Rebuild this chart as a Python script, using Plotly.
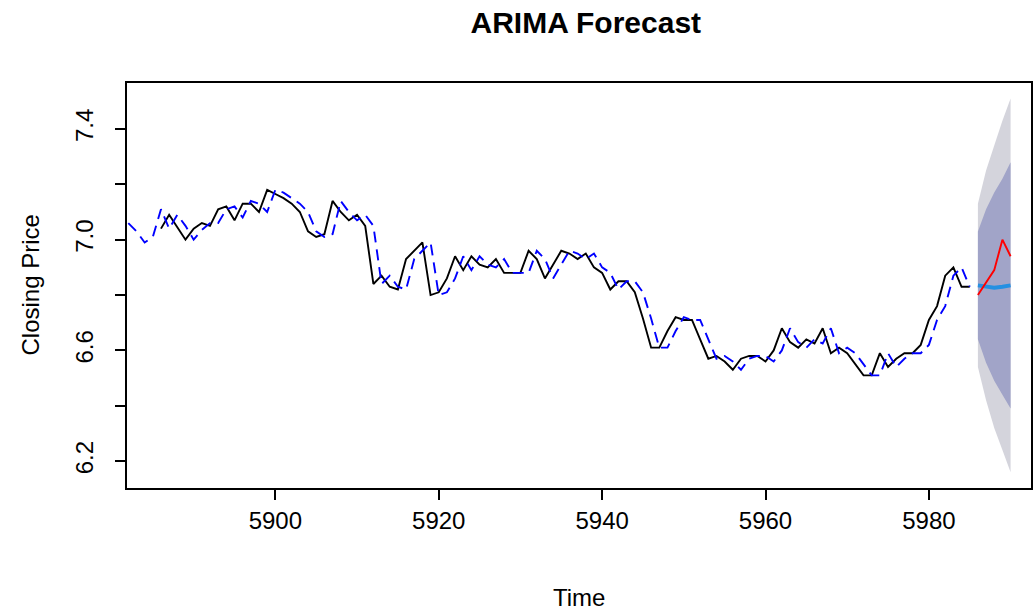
import plotly.graph_objects as go

# ---- data ----
t_start = 5886
actual = [7.04, 7.09, 7.045, 7.00, 7.04, 7.06, 7.05, 7.11, 7.12, 7.07,
          7.13, 7.13, 7.10, 7.18, 7.165, 7.15, 7.13, 7.10, 7.03, 7.01,
          7.02, 7.14, 7.10, 7.07, 7.09, 7.05, 6.84, 6.87, 6.83, 6.82,
          6.93, 6.96, 6.99, 6.80, 6.81, 6.86, 6.94, 6.89, 6.94, 6.91,
          6.90, 6.93, 6.88, 6.88, 6.88, 6.96, 6.93, 6.86, 6.91, 6.96,
          6.95, 6.93, 6.95, 6.90, 6.88, 6.82, 6.85, 6.85, 6.81, 6.715,
          6.61, 6.61, 6.67, 6.72, 6.71, 6.71, 6.64, 6.57, 6.58, 6.56,
          6.53, 6.57, 6.58, 6.58, 6.56, 6.60, 6.68, 6.63, 6.61, 6.64,
          6.625, 6.68, 6.59, 6.61, 6.59, 6.55, 6.51, 6.51, 6.59, 6.54,
          6.57, 6.59, 6.59, 6.62, 6.71, 6.76, 6.87, 6.90, 6.83, 6.83]
time_actual = list(range(t_start, t_start + len(actual)))

fit_start = 5882
fitted = [7.06, 7.03, 6.99, 7.01, 7.11, 7.04, 7.09, 7.05, 7.00, 7.035,
          7.06, 7.06, 7.11, 7.12, 7.08, 7.14, 7.13, 7.10, 7.18, 7.17,
          7.15, 7.13, 7.10, 7.03, 7.01, 7.02, 7.14, 7.10, 7.07, 7.09,
          7.05, 6.84, 6.87, 6.83, 6.82, 6.93, 6.96, 6.99, 6.80, 6.81,
          6.86, 6.94, 6.89, 6.94, 6.91, 6.90, 6.93, 6.88, 6.88, 6.88,
          6.96, 6.93, 6.86, 6.91, 6.96, 6.95, 6.93, 6.95, 6.90, 6.88,
          6.82, 6.85, 6.85, 6.81, 6.715, 6.61, 6.61, 6.67, 6.72, 6.71,
          6.71, 6.64, 6.57, 6.58, 6.56, 6.53, 6.57, 6.58, 6.58, 6.56,
          6.60, 6.68, 6.63, 6.61, 6.64, 6.625, 6.68, 6.59, 6.61, 6.59,
          6.55, 6.51, 6.51, 6.59, 6.54, 6.57, 6.59, 6.59, 6.62, 6.71,
          6.76, 6.87, 6.90, 6.83]
time_fitted = list(range(fit_start, fit_start + len(fitted)))

time_fc = [5986, 5987, 5988, 5989, 5990]
fc_mean = [6.835, 6.830, 6.826, 6.830, 6.835]
hi95 = [7.13, 7.25, 7.34, 7.43, 7.51]
lo95 = [6.54, 6.42, 6.32, 6.24, 6.16]
hi80 = [7.03, 7.11, 7.17, 7.22, 7.28]
lo80 = [6.64, 6.555, 6.49, 6.44, 6.39]
test_actual = [6.80, 6.845, 6.89, 7.00, 6.94]

x_ticks = [5900, 5920, 5940, 5960, 5980]
y_ticks = [6.2, 6.4, 6.6, 6.8, 7.0, 7.2, 7.4]
y_ticktext = ["6.2", "", "6.6", "", "7.0", "", "7.4"]

FONT = "Liberation Sans, Arial, sans-serif"
TICK_SIZE = 24

fig = go.Figure()

# 95% band
fig.add_trace(go.Scatter(
    x=time_fc + time_fc[::-1], y=hi95 + lo95[::-1],
    fill="toself", fillcolor="#D4D4DC", line=dict(width=0),
    mode="lines", hoverinfo="skip", showlegend=False))
# 80% band
fig.add_trace(go.Scatter(
    x=time_fc + time_fc[::-1], y=hi80 + lo80[::-1],
    fill="toself", fillcolor="#A1A4C8", line=dict(width=0),
    mode="lines", hoverinfo="skip", showlegend=False))

# observed series
fig.add_trace(go.Scatter(x=time_actual, y=actual, mode="lines",
                         line=dict(color="black", width=1.9), showlegend=False))
# fitted values
fig.add_trace(go.Scatter(x=time_fitted, y=fitted, mode="lines",
                         line=dict(color="#0000FF", width=1.9, dash="11px,7px"),
                         showlegend=False))
# forecast mean
fig.add_trace(go.Scatter(x=time_fc, y=fc_mean, mode="lines",
                         line=dict(color="#2590E2", width=4), showlegend=False))
# test actuals
fig.add_trace(go.Scatter(x=time_fc, y=test_actual, mode="lines",
                         line=dict(color="#FF0000", width=1.9), showlegend=False))

fig.update_layout(
    width=1035, height=611,
    margin=dict(l=127, r=2, t=83, b=123),
    paper_bgcolor="white", plot_bgcolor="white",
    font=dict(family=FONT, color="black", size=TICK_SIZE),
    title=dict(text="<b>ARIMA Forecast</b>", x=0.566, xanchor="center",
               y=1 - 22 / 611, yanchor="middle", yref="container",
               font=dict(size=30, family=FONT)),
    showlegend=False,
)

fig.update_xaxes(
    range=[5881.84, 5992.5], showgrid=False, zeroline=False,
    showline=True, mirror=True, linecolor="black", linewidth=1.5,
    ticks="outside", ticklen=10, tickwidth=1.5, tickcolor="black",
    tickvals=x_ticks, ticktext=[str(v) for v in x_ticks],
    tickfont=dict(size=TICK_SIZE, family=FONT),
)
fig.update_yaxes(
    range=[6.103, 7.566], showgrid=False, zeroline=False,
    showline=True, mirror=True, linecolor="black", linewidth=1.5,
    ticks="outside", ticklen=10, tickwidth=1.5, tickcolor="black",
    tickvals=y_ticks, ticktext=y_ticktext, tickangle=-90,
    ticklabelstandoff=13,
    tickfont=dict(size=TICK_SIZE, family=FONT),
)

fig.add_annotation(text="Time", xref="paper", yref="paper", x=0.5, y=0,
                   yshift=-109, showarrow=False, yanchor="middle",
                   font=dict(size=TICK_SIZE, family=FONT))
fig.add_annotation(text="Closing Price", xref="paper", yref="paper", x=0, y=0.5,
                   xshift=-97, showarrow=False, textangle=-90, xanchor="center",
                   font=dict(size=TICK_SIZE, family=FONT))

fig.write_html(
    "out.html",
    config={"displayModeBar": False},
    post_script="document.body.style.margin='0';document.body.style.overflow='hidden';",
)
